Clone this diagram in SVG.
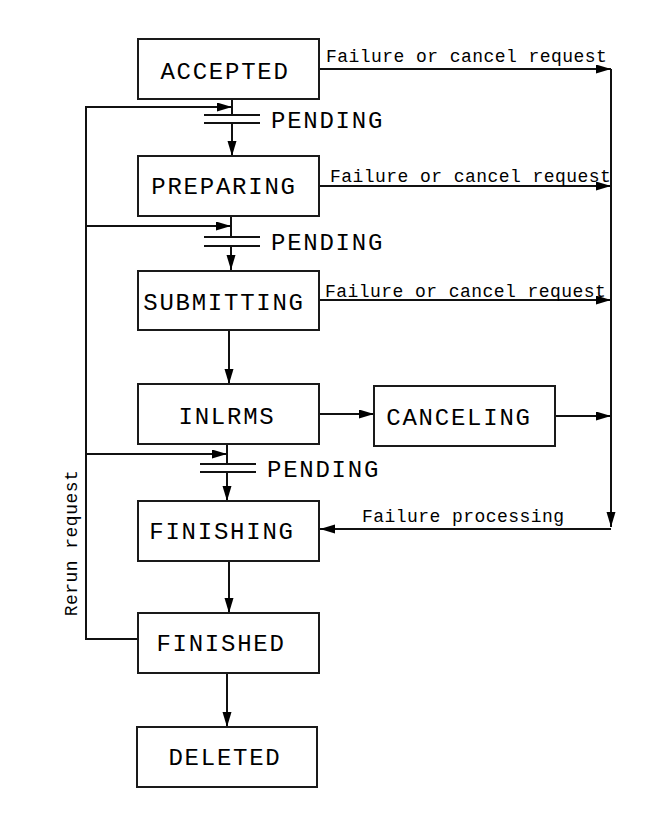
<svg xmlns="http://www.w3.org/2000/svg" width="653" height="834" viewBox="0 0 653 834">
<style>
.box{fill:#fff;stroke:#1a1a1a;stroke-width:2}
.ln{fill:none;stroke:#111;stroke-width:2}
.big{font-family:"Liberation Mono","Courier New",monospace;font-size:24px;letter-spacing:1.75px;fill:#000}
.sm{font-family:"Liberation Mono","Courier New",monospace;font-size:18px;letter-spacing:0.45px;fill:#000}
.mid{text-anchor:middle}
</style>
<defs>
<marker id="ah" markerUnits="userSpaceOnUse" markerWidth="16" markerHeight="10" refX="15" refY="4.5" orient="auto" viewBox="0 0 16 10">
<path d="M0,0 L15,4.5 L0,9 z" fill="#000"/>
</marker>
</defs>
<rect width="653" height="834" fill="#fff"/>
<g id="connectors">
<path class="ln" d="M232,99 V115"/>
<path class="ln" d="M204,115 H260 M204,123 H260"/>
<path class="ln" d="M232,123 V156" marker-end="url(#ah)"/>
<path class="ln" d="M231,216 V237"/>
<path class="ln" d="M204,237 H260 M204,246 H260"/>
<path class="ln" d="M231,246 V270" marker-end="url(#ah)"/>
<path class="ln" d="M229,330 V384" marker-end="url(#ah)"/>
<path class="ln" d="M227,444 V464"/>
<path class="ln" d="M200,464 H256 M200,472 H256"/>
<path class="ln" d="M227,472 V501" marker-end="url(#ah)"/>
<path class="ln" d="M229,561 V613" marker-end="url(#ah)"/>
<path class="ln" d="M227,673 V727" marker-end="url(#ah)"/>
<path class="ln" d="M138,639 H86 V107 H232" marker-end="url(#ah)"/>
<path class="ln" d="M86,226 H231" marker-end="url(#ah)"/>
<path class="ln" d="M86,454 H227" marker-end="url(#ah)"/>
<path class="ln" d="M319,69 H611" marker-end="url(#ah)"/>
<path class="ln" d="M319,186 H611" marker-end="url(#ah)"/>
<path class="ln" d="M319,300 H611" marker-end="url(#ah)"/>
<path class="ln" d="M319,414 H374" marker-end="url(#ah)"/>
<path class="ln" d="M555,416 H611" marker-end="url(#ah)"/>
<path class="ln" d="M611,69 V527" marker-end="url(#ah)"/>
<path class="ln" d="M611,529 H320" marker-end="url(#ah)"/>
<text class="sm" x="326" y="62">Failure or cancel request</text>
<text class="sm" x="330" y="182">Failure or cancel request</text>
<text class="sm" x="325" y="297">Failure or cancel request</text>
<text class="sm" x="362" y="522">Failure processing</text>
<text class="sm" transform="translate(77,543) rotate(-90)" text-anchor="middle">Rerun request</text>
<text class="big" x="271" y="128">PENDING</text>
<text class="big" x="271" y="250">PENDING</text>
<text class="big" x="267" y="477">PENDING</text>
</g>
<g id="accepted"><rect class="box" x="138" y="39" width="181" height="60"/><text class="big mid" x="225" y="79">ACCEPTED</text></g>
<g id="preparing"><rect class="box" x="138" y="156" width="181" height="60"/><text class="big mid" x="224" y="194">PREPARING</text></g>
<g id="submitting"><rect class="box" x="138" y="271" width="181" height="59"/><text class="big mid" x="224" y="310">SUBMITTING</text></g>
<g id="inlrms"><rect class="box" x="138" y="384" width="181" height="60"/><text class="big mid" x="227" y="424">INLRMS</text></g>
<g id="canceling"><rect class="box" x="374" y="386" width="181" height="60"/><text class="big mid" x="459" y="425">CANCELING</text></g>
<g id="finishing"><rect class="box" x="138" y="501" width="181" height="60"/><text class="big mid" x="222" y="539">FINISHING</text></g>
<g id="finished"><rect class="box" x="138" y="613" width="181" height="60"/><text class="big mid" x="221" y="651">FINISHED</text></g>
<g id="deleted"><rect class="box" x="137" y="727" width="180" height="60"/><text class="big mid" x="225" y="765">DELETED</text></g>
</svg>
